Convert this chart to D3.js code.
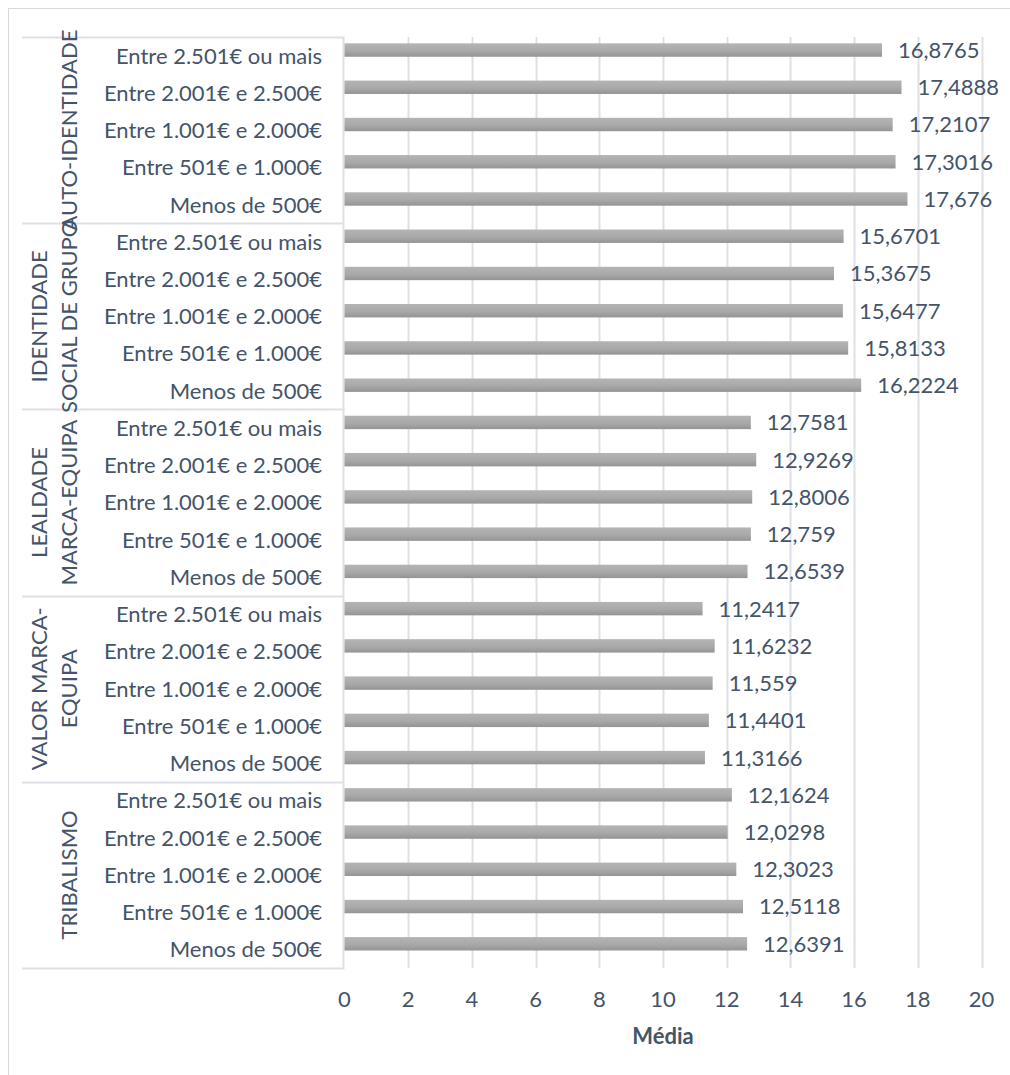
<!DOCTYPE html>
<html>
<head>
<meta charset="utf-8">
<script src="https://cdn.jsdelivr.net/npm/d3@7"></script>
<style>
  html, body { margin: 0; padding: 0; background: #fff; }
  svg { display: block; font-family: Lato, "Open Sans", sans-serif; }
</style>
</head>
<body>
<svg id="chart" width="1010" height="1075"></svg>
<script>
// Income brackets, repeated within each dimension (top to bottom)
const brackets = [
  "Entre 2.501€ ou mais",
  "Entre 2.001€ e 2.500€",
  "Entre 1.001€ e 2.000€",
  "Entre 501€ e 1.000€",
  "Menos de 500€"
];

// Dimension groups, each label split into its lines
const groups = [
  ["AUTO-IDENTIDADE"],
  ["IDENTIDADE", "SOCIAL DE GRUPO"],
  ["LEALDADE", "MARCA-EQUIPA"],
  ["VALOR MARCA-", "EQUIPA"],
  ["TRIBALISMO"]
];

// Mean score per bracket, one array per group
const autoIdentidade   = [16.8765, 17.4888, 17.2107, 17.3016, 17.676];
const identidadeSocial = [15.6701, 15.3675, 15.6477, 15.8133, 16.2224];
const lealdadeMarca    = [12.7581, 12.9269, 12.8006, 12.759, 12.6539];
const valorMarca       = [11.2417, 11.6232, 11.559, 11.4401, 11.3166];
const tribalismo       = [12.1624, 12.0298, 12.3023, 12.5118, 12.6391];

const groupValues = [autoIdentidade, identidadeSocial, lealdadeMarca, valorMarca, tribalismo];

const xTicks = [0, 2, 4, 6, 8, 10, 12, 14, 16, 18, 20];
const xTitle = "Média";

// Flattened rows
const rows = [];
groupValues.forEach((vals, g) => {
  vals.forEach((v, i) => rows.push({ id: g * brackets.length + i, group: g, label: brackets[i], value: v }));
});

const textColor = "#44546A";
const gridColor = "#dde1e7";
const fontSize = 22;

const svg = d3.select("#chart");

// outer chart frame
svg.append("rect")
  .attr("x", 8.5).attr("y", 8.5)
  .attr("width", 1010).attr("height", 1075)
  .attr("fill", "#fff").attr("stroke", "#d9d9d9");

const plotTop = 37, plotBottom = 968;
const x = d3.scaleLinear().domain([0, 20]).range([344.5, 981.5]);
const y = d3.scaleBand().domain(rows.map(r => r.id)).range([plotTop, plotBottom]);
const bw = y.bandwidth();

// bar gradient
const defs = svg.append("defs");
const grad = defs.append("linearGradient")
  .attr("id", "barGrad").attr("x1", 0).attr("y1", 0).attr("x2", 0).attr("y2", 1);
grad.append("stop").attr("offset", "0%").attr("stop-color", "#b4b4b4");
grad.append("stop").attr("offset", "55%").attr("stop-color", "#a9a9a9");
grad.append("stop").attr("offset", "100%").attr("stop-color", "#949494");

// vertical gridlines
svg.append("g")
  .selectAll("line")
  .data(xTicks.slice(1))
  .join("line")
  .attr("x1", d => Math.round(x(d)) + 0.5)
  .attr("x2", d => Math.round(x(d)) + 0.5)
  .attr("y1", plotTop).attr("y2", plotBottom)
  .attr("stroke", gridColor).attr("stroke-width", 2);

// category axis frame: axis line and group separators
const groupLen = brackets.length;
const sepYs = d3.range(groups.length + 1).map(g =>
  g < groups.length ? y(g * groupLen) : y(rows.length - 1) + bw);

svg.append("g")
  .selectAll("line")
  .data(sepYs)
  .join("line")
  .attr("x1", 22).attr("x2", x(0))
  .attr("y1", d => Math.round(d) + 0.5).attr("y2", d => Math.round(d) + 0.5)
  .attr("stroke", gridColor).attr("stroke-width", 2);

svg.append("line")
  .attr("x1", x(0) - 1).attr("x2", x(0) - 1)
  .attr("y1", plotTop).attr("y2", plotBottom)
  .attr("stroke", gridColor).attr("stroke-width", 2);

// bars
svg.append("g")
  .selectAll("rect")
  .data(rows)
  .join("rect")
  .attr("x", x(0))
  .attr("y", d => y(d.id) + bw * 0.17)
  .attr("width", d => x(d.value) - x(0))
  .attr("height", bw * 0.36)
  .attr("fill", "url(#barGrad)");

// value labels
const fmt = v => String(v).replace(".", ",");
svg.append("g")
  .selectAll("text")
  .data(rows)
  .join("text")
  .attr("x", d => x(d.value) + 16)
  .attr("y", d => y(d.id) + bw * 0.35)
  .attr("dy", "0.36em")
  .attr("fill", textColor)
  .attr("font-size", fontSize)
  .text(d => fmt(d.value));

// bracket labels
svg.append("g")
  .selectAll("text")
  .data(rows)
  .join("text")
  .attr("x", 322)
  .attr("y", d => y(d.id) + bw / 2)
  .attr("dy", "0.36em")
  .attr("text-anchor", "end")
  .attr("fill", textColor)
  .attr("font-size", fontSize)
  .text(d => d.label);

// rotated group labels
const lineGap = 30, lastLineX = 69.5;
groups.forEach((lines, g) => {
  const cy = (sepYs[g] + sepYs[g + 1]) / 2;
  lines.forEach((ln, k) => {
    const cx = lastLineX - (lines.length - 1 - k) * lineGap;
    svg.append("text")
      .attr("transform", `translate(${cx},${cy}) rotate(-90)`)
      .attr("text-anchor", "middle")
      .attr("dy", "0.36em")
      .attr("fill", textColor)
      .attr("font-size", fontSize)
      .text(ln);
  });
});

// value axis tick labels
svg.append("g")
  .selectAll("text")
  .data(xTicks)
  .join("text")
  .attr("x", d => x(d))
  .attr("y", 999.5)
  .attr("dy", "0.36em")
  .attr("text-anchor", "middle")
  .attr("fill", textColor)
  .attr("font-size", fontSize)
  .text(d => d);

// axis title
svg.append("text")
  .attr("x", (x(0) + x(20)) / 2)
  .attr("y", 1036)
  .attr("dy", "0.36em")
  .attr("text-anchor", "middle")
  .attr("fill", textColor)
  .attr("font-size", fontSize)
  .attr("font-weight", "bold")
  .text(xTitle);
</script>
</body>
</html>
